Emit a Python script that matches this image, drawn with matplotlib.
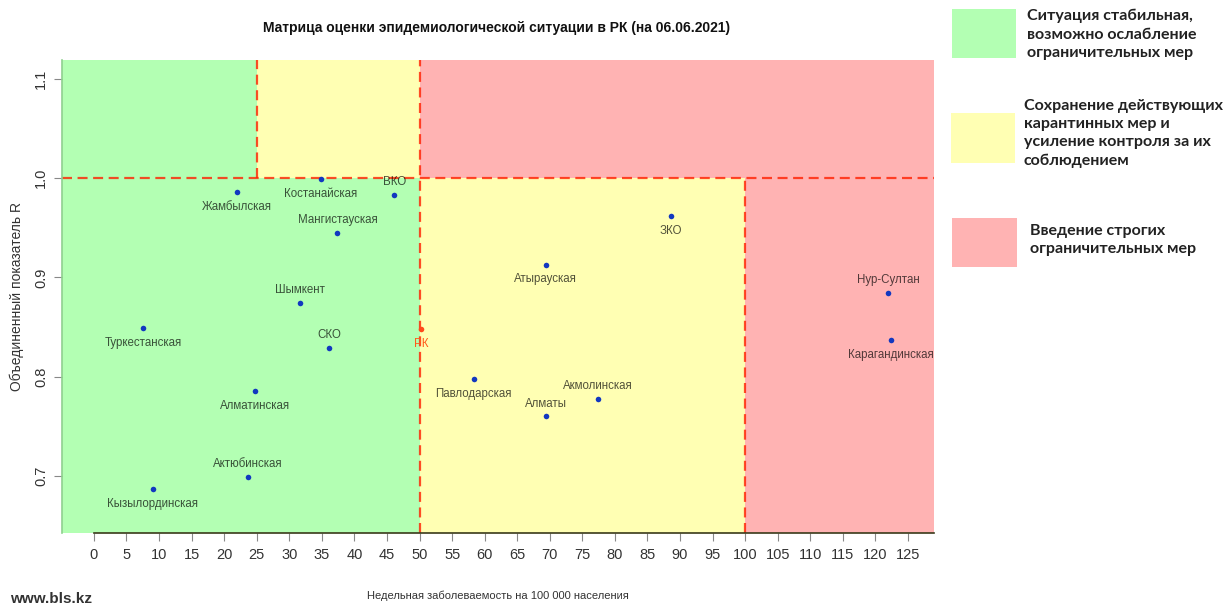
import matplotlib
matplotlib.use("Agg")
import matplotlib.pyplot as plt
from matplotlib import font_manager
from matplotlib.patches import Rectangle

# ---------- data ----------
regions = ["Жамбылская", "Костанайская", "ВКО", "Мангистауская", "Шымкент",
           "Туркестанская", "СКО", "Алматинская", "Актюбинская", "Кызылординская",
           "Павлодарская", "Атырауская", "ЗКО", "Алматы", "Акмолинская",
           "Нур-Султан", "Карагандинская"]
incidence = [21.9, 34.8, 46.1, 37.4, 31.6,
             7.6, 36.1, 24.7, 23.7, 9.0,
             58.3, 69.4, 88.6, 69.4, 77.4,
             122.0, 122.4]
r_value = [0.986, 0.999, 0.983, 0.945, 0.874,
           0.849, 0.829, 0.786, 0.699, 0.687,
           0.798, 0.913, 0.962, 0.760, 0.778,
           0.884, 0.837]
# label above (True) or below (False) the point
label_above = [False, False, True, True, True,
               False, True, False, True, False,
               False, False, False, True, True,
               True, False]
rk_x, rk_y = 50.3, 0.848

x_ticks = list(range(0, 130, 5))
y_ticks = [0.7, 0.8, 0.9, 1.0, 1.1]

legend_texts = ["Ситуация стабильная,\nвозможно ослабление\nограничительных мер",
                "Сохранение действующих\nкарантинных мер и\nусиление контроля за их\nсоблюдением",
                "Введение строгих\nограничительных мер"]

GREEN, YELLOW, RED = "#b3ffb3", "#ffffb3", "#ffb3b3"

names = {f.name for f in font_manager.fontManager.ttflist}
narrow = "Liberation Sans Narrow" if "Liberation Sans Narrow" in names else "Liberation Sans"
lbl_size = 9.5 if narrow == "Liberation Sans Narrow" else 8.3
plt.rcParams["font.family"] = [narrow, "DejaVu Sans"]

W, H = 1227, 606
fig = plt.figure(figsize=(W / 100, H / 100), dpi=100)
ax = fig.add_axes([62 / W, (H - 533) / H, (934 - 62) / W, (533 - 60) / H])
xmin, xmax = -4.9, 129.0
ymin, ymax = 0.6426, 1.119
ax.set_xlim(xmin, xmax)
ax.set_ylim(ymin, ymax)

# zones
ax.add_patch(Rectangle((xmin, 1.0), 25 - xmin, ymax - 1.0, color=GREEN, lw=0))
ax.add_patch(Rectangle((25, 1.0), 25, ymax - 1.0, color=YELLOW, lw=0))
ax.add_patch(Rectangle((50, 1.0), xmax - 50, ymax - 1.0, color=RED, lw=0))
ax.add_patch(Rectangle((xmin, ymin), 50 - xmin, 1.0 - ymin, color=GREEN, lw=0))
ax.add_patch(Rectangle((50, ymin), 50, 1.0 - ymin, color=YELLOW, lw=0))
ax.add_patch(Rectangle((100, ymin), xmax - 100, 1.0 - ymin, color=RED, lw=0))

dash = dict(color="#ff2000", alpha=0.8, lw=1.6, ls=(0, (4.5, 2.5)), zorder=2)
ax.axhline(1.0, **dash)
ax.plot([25, 25], [1.0, ymax], **dash)
ax.axvline(50, **dash)
ax.plot([100, 100], [ymin, 1.0], **dash)

ax.scatter(incidence, r_value, s=16, color="#1238c0", zorder=3, lw=0)
for name, x, y, up in zip(regions, incidence, r_value, label_above):
    dy = 0.013 if up else -0.015
    ax.text(x, y + dy, name, ha="center", va="center", fontsize=lbl_size,
            color="black", alpha=0.68, zorder=4)
ax.scatter([rk_x], [rk_y], s=16, color="#ff4a1a", zorder=3, lw=0)
ax.text(rk_x, rk_y - 0.015, "РК", ha="center", va="center", fontsize=lbl_size,
        color="#ff5a1a", zorder=4)

# axes styling
for s in ["top", "right"]:
    ax.spines[s].set_visible(False)
ax.spines["left"].set_color("#8fd08f")
ax.spines["left"].set_linewidth(1.2)
ax.spines["bottom"].set_bounds(0, xmax)
ax.spines["bottom"].set_color("#3a3a1a")
ax.spines["bottom"].set_linewidth(1.2)
ax.set_xticks(x_ticks)
ax.set_xticklabels([str(t) for t in x_ticks])
ax.set_yticks(y_ticks)
ax.set_yticklabels([f"{t:.1f}" for t in y_ticks], rotation=90, va="center")
ax.tick_params(axis="both", length=6, color="#888888", labelcolor="#333333",
               labelsize=10.5, pad=5)
ax.tick_params(axis="y", pad=4)

ax.set_xlabel("Недельная заболеваемость на 100 000 населения", fontsize=8,
              color="#333333", labelpad=20)
ax.set_ylabel("Объединенный показатель R", fontsize=10, color="#333333", labelpad=7)

fig.text(497 / W, 1 - 28 / H, "Матрица оценки эпидемиологической ситуации в РК (на 06.06.2021)",
         ha="center", va="center", fontsize=10, fontweight="bold", color="#111111")

# legend on the right
leg_fam = ["Lato", "Open Sans", "DejaVu Sans"]
boxes = [(952, 9, 1016, 58, GREEN), (951, 113, 1015, 163, YELLOW), (952, 218, 1017, 267, RED)]
text_pos = [(1027, 9), (1024, 99), (1030, 224)]
for (x0, y0, x1, y1, c), (tx, ty), txt in zip(boxes, text_pos, legend_texts):
    fig.patches.append(Rectangle((x0 / W, 1 - y1 / H), (x1 - x0) / W, (y1 - y0) / H,
                                 color=c, lw=0, transform=fig.transFigure, figure=fig))
    fig.text(tx / W, 1 - ty / H, txt, ha="left", va="top", fontsize=11.5,
             fontweight="bold", color="#222222", family=leg_fam, linespacing=1.38)

# logo text
fig.text(10 / W, 1 - 599 / H, "www.bls.kz", ha="left", va="center", fontsize=11,
         fontweight="bold", color="#333333")

fig.savefig("out.png", dpi=100)
